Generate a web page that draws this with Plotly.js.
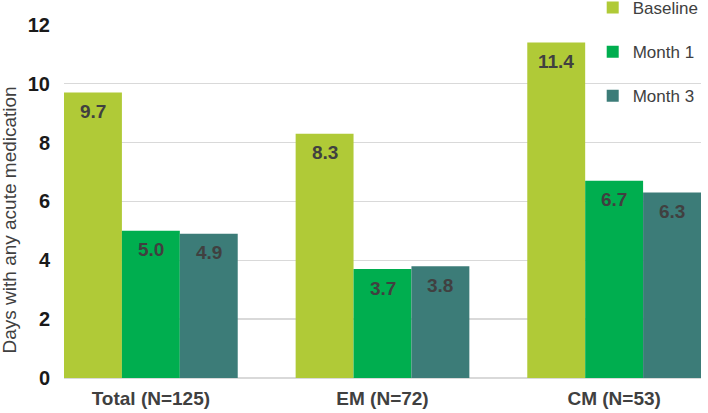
<!DOCTYPE html>
<html>
<head>
<meta charset="utf-8">
<script src="https://cdn.plot.ly/plotly-3.0.1.min.js"></script>
<style>
  html, body { margin: 0; padding: 0; background: #fff; }
  #chart { width: 708px; height: 413px; }
</style>
</head>
<body>
<div id="chart"></div>
<script>
const groups = ['Total (N=125)', 'EM (N=72)', 'CM (N=53)'];
const baseline = [9.7, 8.3, 11.4];
const month1 = [5.0, 3.7, 6.7];
const month3 = [4.9, 3.8, 6.3];
const seriesNames = ['Baseline', 'Month 1', 'Month 3'];
const seriesColors = ['#b0ca37', '#00ae4f', '#3c7c78'];
const yTitle = 'Days with any acute medication';

const font = 'Arial, "Liberation Sans", sans-serif';
const bargap = 0.25;
const series = [baseline, month1, month3];

const traces = series.map((vals, i) => ({
    x: groups,
    y: vals,
    type: 'bar',
    name: seriesNames[i],
    legendgroup: 'g' + i,
    marker: { color: seriesColors[i], line: { width: 0 } },
    hoverinfo: 'skip'
}));

// value labels sit just under the top of each bar
const barW = (1 - bargap) / series.length;
const labels = [];
series.forEach((vals, si) => {
    vals.forEach((v, gi) => {
        labels.push({
            x: gi + (si - (series.length - 1) / 2) * barW,
            y: v,
            xref: 'x',
            yref: 'y',
            text: v.toFixed(1),
            showarrow: false,
            yanchor: 'middle',
            yshift: -19,
            font: { family: font, size: 19, color: '#404040', weight: 'bold' }
        });
    });
});

// y title sits a bit below the plot centre, like the original
labels.push({
    x: -0.0863,
    y: 0.445,
    xref: 'paper',
    yref: 'paper',
    xanchor: 'center',
    yanchor: 'middle',
    text: yTitle,
    textangle: -90,
    showarrow: false,
    font: { family: font, size: 19, color: '#404040' }
});

const layout = {
    width: 708,
    height: 413,
    margin: { l: 64, r: 7, t: 24, b: 35, autoexpand: false },
    paper_bgcolor: '#ffffff',
    plot_bgcolor: '#ffffff',
    barmode: 'group',
    bargap: bargap,
    bargroupgap: 0,
    font: { family: font, color: '#404040' },
    xaxis: {
        range: [-0.375, 2.375],
        showgrid: false,
        zeroline: false,
        showline: false,
        ticks: '',
        tickfont: { family: font, size: 19, color: '#404040', weight: 'bold' },
        ticklabelstandoff: 7
    },
    yaxis: {
        range: [0, 12.03],
        tickvals: [0, 2, 4, 6, 8, 10, 12],
        showgrid: true,
        gridcolor: '#d9d9d9',
        gridwidth: 1.5,
        zeroline: true,
        zerolinecolor: '#d9d9d9',
        zerolinewidth: 1.5,
        showline: false,
        ticks: '',
        tickfont: { family: font, size: 20, color: '#1a1a1a', weight: 'bold' },
        ticklabelstandoff: 13
    },
    annotations: labels,
    showlegend: true,
    legend: {
        x: 0.83,
        xanchor: 'left',
        y: 1.096,
        yanchor: 'top',
        bgcolor: 'rgba(0,0,0,0)',
        font: { family: font, size: 17, color: '#404040' },
        tracegroupgap: 19,
        traceorder: 'grouped'
    }
};

Plotly.newPlot('chart', traces, layout, { staticPlot: true });
</script>
</body>
</html>
